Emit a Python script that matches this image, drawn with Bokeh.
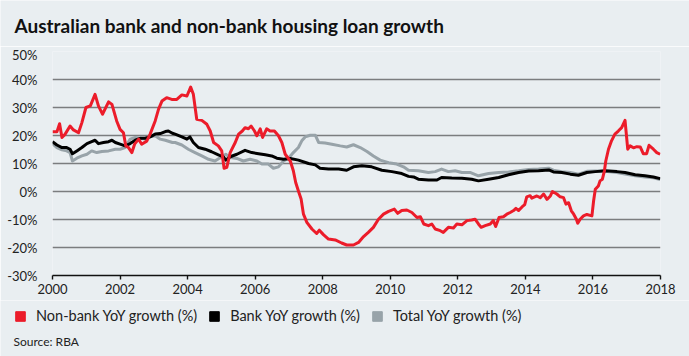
from bokeh.plotting import figure
from bokeh.layouts import column
from bokeh.models import (Legend, LegendItem, Label,
                          FixedTicker, CustomJSTickFormatter, Range1d)
from bokeh.embed import file_html
from bokeh.resources import INLINE

# ---------------- data (decimal years, YoY growth %) ----------------
nonbank_t = [2000.00, 2000.13, 2000.21, 2000.28, 2000.37, 2000.52, 2000.62, 2000.77, 2000.87, 2000.99,
             2001.12, 2001.26, 2001.36, 2001.48, 2001.66, 2001.76, 2001.90, 2002.00, 2002.10, 2002.17,
             2002.25, 2002.35, 2002.43, 2002.55, 2002.64, 2002.79, 2002.89, 2003.04, 2003.14, 2003.24,
             2003.38, 2003.53, 2003.68, 2003.83, 2003.98, 2004.09, 2004.17, 2004.27, 2004.42, 2004.57,
             2004.67, 2004.77, 2004.91, 2005.01, 2005.08, 2005.16, 2005.26, 2005.41, 2005.51, 2005.62,
             2005.70, 2005.80, 2005.88, 2005.98, 2006.05, 2006.15, 2006.22, 2006.34, 2006.44, 2006.57,
             2006.69, 2006.79, 2006.89, 2007.04, 2007.13, 2007.20, 2007.28, 2007.36, 2007.43, 2007.53,
             2007.68, 2007.82, 2007.90, 2008.02, 2008.17, 2008.37, 2008.56, 2008.71, 2008.91, 2009.06,
             2009.21, 2009.35, 2009.50, 2009.65, 2009.80, 2009.95, 2010.12, 2010.22, 2010.34, 2010.49,
             2010.64, 2010.79, 2010.89, 2010.99, 2011.13, 2011.23, 2011.33, 2011.48, 2011.57, 2011.72,
             2011.87, 2011.97, 2012.12, 2012.27, 2012.41, 2012.51, 2012.61, 2012.69, 2012.81, 2012.96,
             2013.05, 2013.12, 2013.22, 2013.35, 2013.45, 2013.55, 2013.65, 2013.72, 2013.80, 2013.90,
             2013.98, 2014.04, 2014.14, 2014.19, 2014.34, 2014.44, 2014.54, 2014.64, 2014.74, 2014.80,
             2014.93, 2015.03, 2015.13, 2015.20, 2015.28, 2015.36, 2015.43, 2015.51, 2015.55, 2015.62,
             2015.72, 2015.82, 2015.97, 2016.02, 2016.07, 2016.16, 2016.21, 2016.28, 2016.34, 2016.38,
             2016.46, 2016.55, 2016.65, 2016.75, 2016.85, 2016.95, 2017.03, 2017.10, 2017.20, 2017.30,
             2017.40, 2017.49, 2017.59, 2017.66, 2017.79, 2017.89, 2017.99]
nonbank_v = [21.3, 21.3, 24.2, 19.3, 20.4, 23.4, 22.0, 21.0, 24.6, 30.0,
             30.6, 34.7, 30.6, 27.6, 32.0, 31.1, 25.2, 22.2, 21.0, 16.3,
             15.7, 13.9, 16.9, 18.7, 16.9, 18.0, 20.5, 25.2, 29.4, 32.3,
             33.5, 32.9, 32.9, 34.5, 34.1, 37.3, 34.7, 25.8, 25.4, 24.0,
             21.6, 17.5, 16.3, 14.5, 8.3, 8.6, 13.9, 17.5, 20.5, 21.6,
             22.8, 22.4, 23.4, 21.6, 19.9, 22.4, 19.3, 22.4, 21.6, 21.6,
             19.9, 17.5, 13.3, 10.9, 7.4, 3.2, 0.2, -2.7, -8.1, -11.0,
             -13.4, -15.0, -13.8, -15.4, -17.0, -17.3, -18.4, -19.1, -19.1, -18.2,
             -16.1, -14.6, -12.8, -9.9, -8.1, -7.1, -6.3, -7.8, -6.8, -6.6,
             -7.5, -9.3, -9.0, -11.6, -12.2, -11.6, -13.4, -14.0, -14.6, -12.8,
             -13.0, -11.6, -11.9, -10.4, -10.2, -9.9, -11.6, -12.8, -12.2, -11.6,
             -10.4, -12.5, -9.3, -9.0, -8.1, -7.5, -6.8, -6.0, -6.8, -5.5,
             -4.7, -1.9, -1.5, -2.4, -1.6, -2.2, -0.9, -2.8, -1.6, 0.0,
             -0.9, -1.9, -2.2, -4.5, -4.0, -6.9, -8.1, -9.9, -11.3, -9.9,
             -8.7, -8.2, -8.7, -3.3, 0.8, 2.0, 3.8, 4.4, 7.4, 10.9,
             15.1, 18.1, 20.5, 21.6, 22.8, 25.4, 15.1, 16.3, 15.6, 16.0,
             15.9, 13.5, 13.5, 16.5, 15.1, 13.9, 13.3]

bank_t = [2000.00, 2000.13, 2000.28, 2000.42, 2000.52, 2000.59, 2000.72, 2000.87, 2001.02, 2001.16,
          2001.26, 2001.36, 2001.51, 2001.66, 2001.76, 2001.86, 2002.00, 2002.15, 2002.30, 2002.45,
          2002.60, 2002.74, 2002.89, 2003.04, 2003.19, 2003.34, 2003.43, 2003.55, 2003.63, 2003.83,
          2003.98, 2004.07, 2004.17, 2004.32, 2004.52, 2004.71, 2004.91, 2005.06, 2005.13, 2005.26,
          2005.46, 2005.70, 2005.90, 2006.10, 2006.30, 2006.49, 2006.64, 2006.84, 2007.04, 2007.28,
          2007.58, 2007.78, 2007.92, 2008.17, 2008.47, 2008.71, 2008.91, 2009.16, 2009.45, 2009.75,
          2010.05, 2010.34, 2010.54, 2010.69, 2010.83, 2011.13, 2011.38, 2011.52, 2011.82, 2012.12,
          2012.41, 2012.61, 2012.91, 2013.21, 2013.50, 2013.80, 2014.10, 2014.39, 2014.69, 2014.83,
          2015.08, 2015.33, 2015.57, 2015.82, 2016.07, 2016.36, 2016.71, 2016.95, 2017.25, 2017.54,
          2017.79, 2017.99]
bank_v = [17.8, 16.6, 15.7, 15.7, 15.1, 13.5, 14.5, 15.7, 17.1, 17.8,
          18.3, 17.1, 17.5, 17.8, 18.3, 17.5, 16.9, 16.3, 17.1, 18.3,
          19.0, 19.0, 19.5, 20.5, 20.7, 21.4, 21.6, 20.8, 20.5, 19.5,
          18.7, 19.5, 17.5, 15.7, 15.1, 14.2, 13.1, 12.4, 11.2, 12.4,
          13.3, 14.7, 13.9, 13.5, 13.1, 12.7, 11.9, 11.5, 11.8, 11.2,
          10.0, 9.5, 8.3, 8.0, 8.0, 7.6, 8.8, 9.2, 8.8, 7.6,
          7.1, 6.4, 5.4, 5.2, 4.4, 4.1, 4.1, 5.0, 4.8, 4.7,
          4.4, 3.8, 4.4, 5.0, 6.0, 6.8, 7.3, 7.4, 7.7, 7.0,
          6.8, 6.2, 5.8, 6.8, 7.1, 7.4, 7.1, 6.8, 6.0, 5.6,
          5.2, 4.6]

total_t = [2000.00, 2000.13, 2000.28, 2000.42, 2000.52, 2000.59, 2000.72, 2000.87, 2001.02, 2001.16,
           2001.31, 2001.46, 2001.66, 2001.86, 2002.00, 2002.15, 2002.30, 2002.45, 2002.60, 2002.74,
           2002.89, 2003.04, 2003.19, 2003.34, 2003.55, 2003.63, 2003.83, 2004.02, 2004.22, 2004.42,
           2004.62, 2004.81, 2005.01, 2005.13, 2005.26, 2005.46, 2005.65, 2005.85, 2006.05, 2006.20,
           2006.39, 2006.54, 2006.69, 2006.84, 2006.99, 2007.13, 2007.28, 2007.38, 2007.48, 2007.63,
           2007.78, 2007.88, 2008.07, 2008.27, 2008.52, 2008.71, 2008.91, 2009.11, 2009.31, 2009.50,
           2009.70, 2009.95, 2010.19, 2010.39, 2010.54, 2010.83, 2011.13, 2011.33, 2011.52, 2011.72,
           2011.92, 2012.12, 2012.36, 2012.61, 2012.91, 2013.21, 2013.50, 2013.80, 2014.10, 2014.39,
           2014.69, 2014.83, 2015.08, 2015.33, 2015.57, 2015.82, 2016.07, 2016.36, 2016.71, 2016.95,
           2017.25, 2017.54, 2017.79, 2017.99]
total_v = [17.1, 15.7, 14.9, 14.5, 13.9, 10.9, 11.9, 12.7, 13.3, 14.5,
           13.9, 14.3, 14.5, 15.1, 15.1, 15.7, 18.7, 19.3, 19.0, 18.7,
           19.5, 19.9, 18.7, 18.3, 17.5, 17.5, 16.6, 15.1, 13.9, 12.7,
           11.5, 10.9, 12.4, 13.3, 12.1, 11.8, 10.9, 11.5, 10.9, 9.8,
           9.8, 8.3, 8.8, 10.9, 11.9, 13.9, 15.7, 18.1, 19.5, 20.1,
           20.1, 17.5, 17.3, 16.9, 16.3, 15.9, 16.7, 15.7, 14.3, 12.7,
           11.2, 10.3, 9.8, 8.8, 7.6, 7.4, 6.8, 7.1, 8.0, 7.1,
           7.4, 6.8, 6.8, 5.6, 6.4, 6.8, 7.0, 7.4, 7.9, 8.0,
           8.3, 7.6, 7.1, 6.8, 6.2, 7.2, 7.3, 7.2, 6.8, 6.2,
           5.6, 5.2, 4.9, 4.3]

x_ticks = [2000, 2002, 2004, 2006, 2008, 2010, 2012, 2014, 2016, 2018]
y_ticks = [-30, -20, -10, 0, 10, 20, 30, 40, 50]
series_labels = ["Non-bank YoY growth (%)", "Bank YoY growth (%)", "Total YoY growth (%)"]
title_text = "Australian bank and non-bank housing loan growth"
source_text = "Source: RBA"

# ---------------- styling ----------------
BG = "#e9eef1"
RED = "#ec1c2a"
BLACK = "#000000"
GREY = "#98a3a9"
FONT = "Lato"
TXT = "#222222"


def strip(height):
    f = figure(width=689, height=height, output_backend="svg", toolbar_location=None,
               x_range=Range1d(0, 1), y_range=Range1d(0, 1),
               min_border_left=0, min_border_right=0, min_border_top=0, min_border_bottom=0,
               x_axis_type=None, y_axis_type=None)
    f.background_fill_color = BG
    f.border_fill_color = BG
    f.outline_line_color = None
    f.grid.visible = False
    return f


# ---------------- title strip ----------------
top = strip(46)
top.add_layout(Label(x=14, y=21, x_units="screen", y_units="screen", text=title_text,
                     text_font=FONT, text_font_size="19px", text_font_style="bold",
                     text_color="#111111", text_baseline="alphabetic"))

# ---------------- main chart ----------------
p = figure(width=689, height=254, output_backend="svg", toolbar_location=None,
           x_range=Range1d(2000, 2018), y_range=Range1d(-30, 50),
           min_border_left=52, min_border_right=29, min_border_top=5, min_border_bottom=25)
p.background_fill_color = BG
p.border_fill_color = BG
p.outline_line_color = None

p.xgrid.grid_line_color = None
p.ygrid.ticker = FixedTicker(ticks=y_ticks)
p.ygrid.grid_line_color = "#7b7d7f"
p.ygrid.grid_line_width = 1.6

p.xaxis.ticker = FixedTicker(ticks=x_ticks)
p.xaxis.axis_line_color = "#111111"
p.xaxis.axis_line_width = 1.6
p.xaxis.major_tick_line_color = "#111111"
p.xaxis.major_tick_line_width = 1.4
p.xaxis.major_tick_in = 0
p.xaxis.major_tick_out = 4
p.xaxis.minor_tick_line_color = None
p.xaxis.major_label_text_font = FONT
p.xaxis.major_label_text_font_size = "13px"
p.xaxis.major_label_text_color = TXT
p.xaxis.major_label_standoff = 4

p.yaxis.ticker = FixedTicker(ticks=y_ticks)
p.yaxis.formatter = CustomJSTickFormatter(code="return tick + '%';")
p.yaxis.axis_line_color = None
p.yaxis.major_tick_line_color = None
p.yaxis.minor_tick_line_color = None
p.yaxis.major_label_text_font = FONT
p.yaxis.major_label_text_font_size = "13px"
p.yaxis.major_label_text_color = TXT
p.yaxis.major_label_standoff = 9

p.line(x=total_t, y=total_v, line_color=GREY, line_width=3, line_join="round")
p.line(x=bank_t, y=bank_v, line_color=BLACK, line_width=3, line_join="round")
p.line(x=nonbank_t, y=nonbank_v, line_color=RED, line_width=3, line_join="round")

# ---------------- legend + source strip ----------------
leg = strip(56)

for fig in (top, p, leg):
    if "frame_align" in fig.properties():
        fig.frame_align = False

nan = float("nan")
items = []
for lab, col in zip(series_labels, [RED, BLACK, GREY]):
    r = leg.quad(left=[nan], right=[nan], top=[nan], bottom=[nan],
                 fill_color=col, line_color=col)
    items.append(LegendItem(label=lab, renderers=[r]))
legend = Legend(items=items, orientation="horizontal", location=(14, 32),
                glyph_width=12, glyph_height=12, label_height=13,
                label_standoff=10, spacing=11, padding=0, margin=0,
                border_line_color=None, background_fill_alpha=0,
                label_text_font=FONT, label_text_font_size="14.5px",
                label_text_color=TXT)
leg.add_layout(legend, "center")

leg.add_layout(Label(x=13, y=15, x_units="screen", y_units="screen", text=source_text,
                     text_font=FONT, text_font_size="12px",
                     text_color=TXT, text_baseline="alphabetic"))

layout = column(top, p, leg, spacing=0)
open("out.html", "w").write(file_html(layout, INLINE))
